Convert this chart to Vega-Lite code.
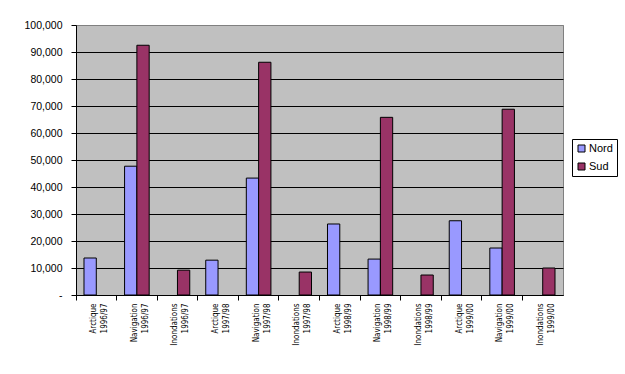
{
  "$schema": "https://vega.github.io/schema/vega-lite/v6.json",
  "width": 487,
  "height": 270,
  "autosize": "none",
  "padding": {"left": 76, "top": 25, "right": 62, "bottom": 79},
  "background": "white",
  "config": {
    "view": {"fill": "#C0C0C0", "stroke": "#808080", "strokeWidth": 1},
    "font": "Liberation Sans"
  },
  "data": {
    "values": [
      {"cat": "Arctique 1996/97", "region": "Nord", "value": 13700},
      {"cat": "Navigation 1996/97", "region": "Nord", "value": 47700},
      {"cat": "Navigation 1996/97", "region": "Sud", "value": 92500},
      {"cat": "Inondations 1996/97", "region": "Sud", "value": 9200},
      {"cat": "Arctique 1997/98", "region": "Nord", "value": 12900},
      {"cat": "Navigation 1997/98", "region": "Nord", "value": 43300},
      {"cat": "Navigation 1997/98", "region": "Sud", "value": 86200},
      {"cat": "Inondations 1997/98", "region": "Sud", "value": 8500},
      {"cat": "Arctique 1998/99", "region": "Nord", "value": 26300},
      {"cat": "Navigation 1998/99", "region": "Nord", "value": 13300},
      {"cat": "Navigation 1998/99", "region": "Sud", "value": 65800},
      {"cat": "Inondations 1998/99", "region": "Sud", "value": 7400},
      {"cat": "Arctique 1999/00", "region": "Nord", "value": 27500},
      {"cat": "Navigation 1999/00", "region": "Nord", "value": 17400},
      {"cat": "Navigation 1999/00", "region": "Sud", "value": 68800},
      {"cat": "Inondations 1999/00", "region": "Sud", "value": 10000}
    ]
  },
  "mark": {"type": "bar", "stroke": "black", "strokeWidth": 1},
  "encoding": {
    "x": {
      "field": "cat",
      "type": "nominal",
      "sort": null,
      "scale": {"paddingInner": 0, "paddingOuter": 0},
      "axis": {
        "title": null,
        "bandPosition": 0,
        "labelOffset": -2,
        "labelAngle": -90,
        "labelAlign": "right",
        "labelBaseline": "middle",
        "labelExpr": "split(datum.label, ' ')",
        "labelFont": "Liberation Sans Narrow, DejaVu Sans Condensed, Liberation Sans",
        "labelFontSize": 8,
        "labelLineHeight": 11,
        "labelColor": "black",
        "labelPadding": 3,
        "tickColor": "black",
        "tickSize": 5,
        "domainColor": "black",
        "grid": false
      }
    },
    "xOffset": {
      "field": "region",
      "type": "nominal",
      "scale": {"domain": ["Nord", "Sud"], "paddingInner": 0, "paddingOuter": 0.65}
    },
    "y": {
      "field": "value",
      "type": "quantitative",
      "scale": {"domain": [0, 100000], "nice": false},
      "axis": {
        "title": null,
        "values": [0, 10000, 20000, 30000, 40000, 50000, 60000, 70000, 80000, 90000, 100000],
        "labelExpr": "datum.value == 0 ? '-' : format(datum.value, ',')",
        "labelFontSize": 10.5,
        "labelColor": "black",
        "labelPadding": 9,
        "tickColor": "black",
        "tickSize": 5,
        "domainColor": "black",
        "grid": true,
        "gridColor": {"condition": {"test": "datum.value == 100000", "value": "#808080"}, "value": "black"},
        "gridOpacity": 1
      }
    },
    "color": {
      "field": "region",
      "type": "nominal",
      "scale": {"domain": ["Nord", "Sud"], "range": ["#9999FF", "#993366"]},
      "legend": {
        "title": null,
        "orient": "none",
        "legendX": 496,
        "legendY": 114,
        "symbolType": "square",
        "symbolSize": 49,
        "symbolStrokeColor": "black",
        "symbolStrokeWidth": 1,
        "symbolOpacity": 1,
        "labelFontSize": 11,
        "labelColor": "black",
        "labelOffset": 2,
        "rowPadding": 6,
        "padding": 4,
        "strokeColor": "black",
        "fillColor": "white"
      }
    }
  }
}
